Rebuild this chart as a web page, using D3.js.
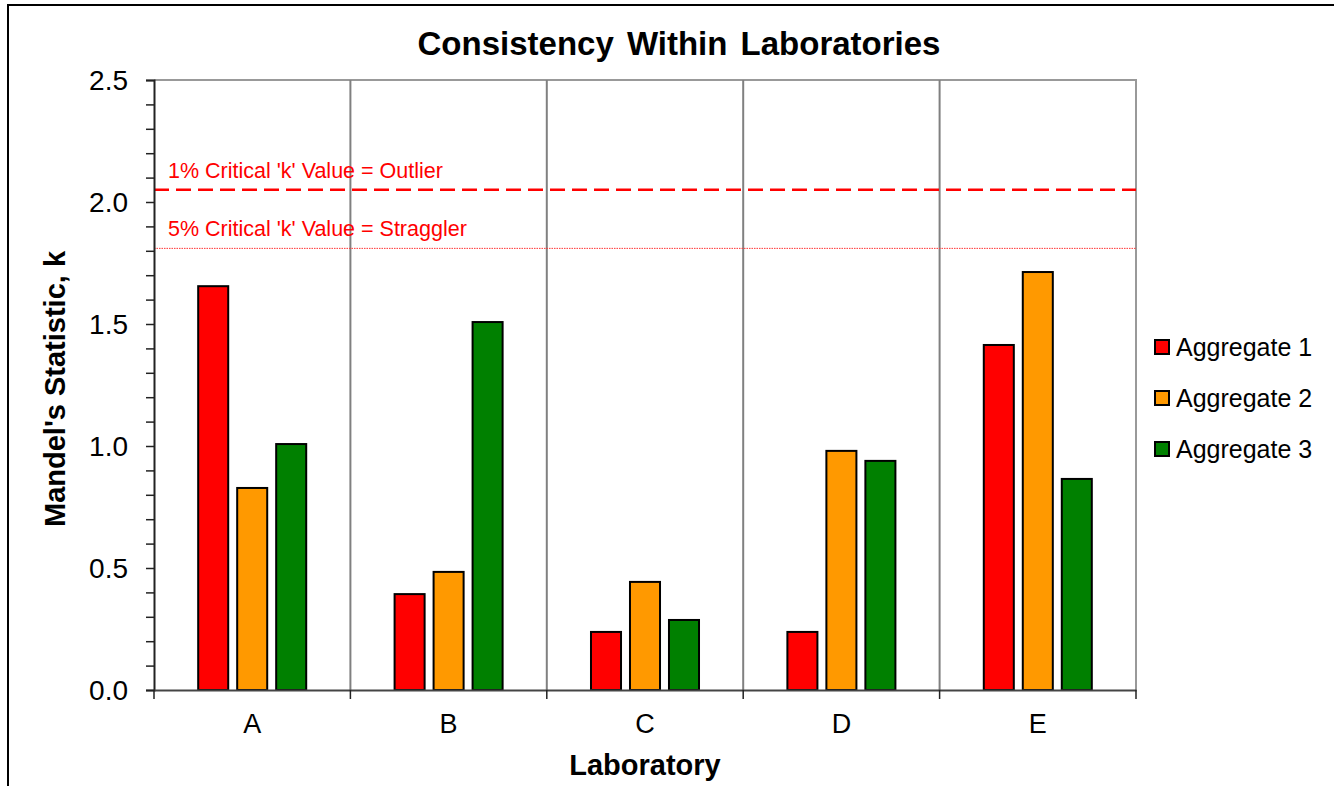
<!DOCTYPE html>
<html lang="en">
<head>
    <meta charset="UTF-8">
    <title>Consistency Within Laboratories</title>
    <script src="https://cdn.jsdelivr.net/npm/d3@7/dist/d3.min.js"></script>
    <style>
        body { margin: 0; background: #fff; }
        text { font-family: "Liberation Sans", Arial, sans-serif; fill: #000; }
    </style>
</head>
<body>
    <svg width="1334" height="786"></svg>
    <script>
        // data
        var labs = ['A', 'B', 'C', 'D', 'E'];
        var seriesNames = ['Aggregate 1', 'Aggregate 2', 'Aggregate 3'];
        var seriesColors = ['#ff0000', '#ff9900', '#008000'];
        var aggregate1 = [1.655, 0.393, 0.238, 0.238, 1.414];
        var aggregate2 = [0.828, 0.484, 0.443, 0.980, 1.713];
        var aggregate3 = [1.008, 1.508, 0.287, 0.939, 0.865];
        var yTicks = [0.0, 0.5, 1.0, 1.5, 2.0, 2.5];
        var critical = [
            {label: "1% Critical 'k' Value = Outlier", value: 2.05, kind: 'dash'},
            {label: "5% Critical 'k' Value = Straggler", value: 1.81, kind: 'dot'}
        ];

        var allSeries = [aggregate1, aggregate2, aggregate3];

        var svg = d3.select('svg'),
            margin = {top: 80, left: 154},
            chartWidth = 982,
            chartHeight = 610;

        // outer frame (only left and top are visible in the picture)
        svg.append('rect')
            .attr('x', 8).attr('y', 5)
            .attr('width', 1400).attr('height', 900)
            .attr('fill', 'none')
            .attr('stroke', '#000')
            .attr('stroke-width', 2);

        var xScale = d3.scaleBand().domain(labs).range([0, chartWidth]),
            x1 = d3.scaleBand().domain(seriesNames)
                    .range([xScale.bandwidth() * 0.225, xScale.bandwidth() * 0.775])
                    .paddingInner(0.23),
            yScale = d3.scaleLinear().domain([0, 2.5]).range([chartHeight, 0]);

        var chartG = svg.append('g')
            .attr('transform', 'translate(' + [margin.left, margin.top] + ')');

        // plot border (top & right)
        chartG.append('path')
            .attr('d', 'M0,0H' + chartWidth + 'V' + chartHeight)
            .attr('fill', 'none')
            .attr('stroke', '#999')
            .attr('stroke-width', 2);

        // vertical grid lines between labs
        chartG.append('g')
            .selectAll('line')
            .data(labs.slice(1))
            .enter().append('line')
            .attr('x1', function(d) { return xScale(d); })
            .attr('x2', function(d) { return xScale(d); })
            .attr('y1', 0).attr('y2', chartHeight)
            .attr('stroke', '#808080')
            .attr('stroke-width', 2);

        // critical value lines
        chartG.append('g')
            .selectAll('line')
            .data(critical)
            .enter().append('line')
            .attr('x1', 0).attr('x2', chartWidth)
            .attr('y1', function(d) { return yScale(d.value); })
            .attr('y2', function(d) { return yScale(d.value); })
            .attr('stroke', function(d) { return d.kind == 'dash' ? '#ff0000' : '#ff3333'; })
            .attr('stroke-width', function(d) { return d.kind == 'dash' ? 2.5 : 1; })
            .attr('stroke-dasharray', function(d) { return d.kind == 'dash' ? '15,7' : '1.5,1'; });

        chartG.append('g')
            .selectAll('text')
            .data(critical)
            .enter().append('text')
            .attr('x', 14)
            .attr('y', function(d) { return yScale(d.value) - 12; })
            .style('fill', '#ff0000')
            .style('font-size', '21.5px')
            .text(function(d) { return d.label; });

        // bars
        var groups = chartG.append('g')
            .selectAll('g')
            .data(labs)
            .enter().append('g')
            .attr('transform', function(d) { return 'translate(' + xScale(d) + ',0)'; });

        groups.selectAll('rect')
            .data(function(d, i) {
                return seriesNames.map(function(s, j) {
                    return {series: s, value: allSeries[j][i], color: seriesColors[j]};
                });
            })
            .enter().append('rect')
            .attr('x', function(d) { return x1(d.series); })
            .attr('width', x1.bandwidth())
            .attr('y', function(d) { return yScale(d.value); })
            .attr('height', function(d) { return chartHeight - yScale(d.value); })
            .attr('fill', function(d) { return d.color; })
            .attr('stroke', '#000')
            .attr('stroke-width', 2);

        // y axis with minor ticks
        var yMinor = d3.range(0, 26).map(function(d) { return d / 10; });
        var yAxisG = chartG.append('g')
            .classed('y-axis', true)
            .call(d3.axisLeft(yScale).tickValues(yMinor).tickSize(8).tickFormat(''));
        yAxisG.select('.domain').attr('stroke', '#222').attr('stroke-width', 2);
        yAxisG.selectAll('.tick line').attr('stroke', '#222').attr('stroke-width', 1.5);

        chartG.append('g')
            .selectAll('text')
            .data(yTicks)
            .enter().append('text')
            .attr('x', -26)
            .attr('y', function(d) { return yScale(d); })
            .attr('dy', '0.36em')
            .attr('text-anchor', 'end')
            .style('font-size', '28px')
            .text(function(d) { return d3.format('.1f')(d); });

        // x axis
        var xAxisG = chartG.append('g')
            .classed('x-axis', true)
            .attr('transform', 'translate(' + [0, chartHeight] + ')')
            .call(d3.axisBottom(xScale).tickSize(0).tickPadding(24));
        xAxisG.select('.domain').attr('stroke', '#444').attr('stroke-width', 2);
        xAxisG.selectAll('.tick text')
            .style('font-size', '27px')
            .style('font-family', '"Liberation Sans", Arial, sans-serif');
        xAxisG.selectAll('.boundary')
            .data(labs.concat(['end']))
            .enter().append('line')
            .attr('x1', function(d, i) { return i * xScale.step(); })
            .attr('x2', function(d, i) { return i * xScale.step(); })
            .attr('y1', 0).attr('y2', 9)
            .attr('stroke', '#222')
            .attr('stroke-width', 1.5);

        // titles
        svg.append('text')
            .attr('x', 679).attr('y', 55)
            .attr('text-anchor', 'middle')
            .style('font-size', '33px')
            .style('font-weight', 'bold')
            .style('word-spacing', '4px')
            .text('Consistency Within Laboratories');

        svg.append('text')
            .attr('transform', 'translate(65,389) rotate(-90)')
            .attr('text-anchor', 'middle')
            .style('font-size', '29px')
            .style('font-weight', 'bold')
            .text("Mandel's Statistic, k");

        svg.append('text')
            .attr('x', 645).attr('y', 775)
            .attr('text-anchor', 'middle')
            .style('font-size', '29px')
            .style('font-weight', 'bold')
            .text('Laboratory');

        // legend
        var legend = svg.append('g')
            .attr('transform', 'translate(1155,347)')
            .selectAll('g')
            .data(seriesNames)
            .enter().append('g')
            .attr('transform', function(d, i) { return 'translate(0,' + i * 51 + ')'; });

        legend.append('rect')
            .attr('x', 0).attr('y', -7)
            .attr('width', 14).attr('height', 14)
            .attr('fill', function(d, i) { return seriesColors[i]; })
            .attr('stroke', '#000')
            .attr('stroke-width', 2);

        legend.append('text')
            .attr('x', 21).attr('y', 9)
            .style('font-size', '25px')
            .text(function(d) { return d; });
    </script>
</body>
</html>
